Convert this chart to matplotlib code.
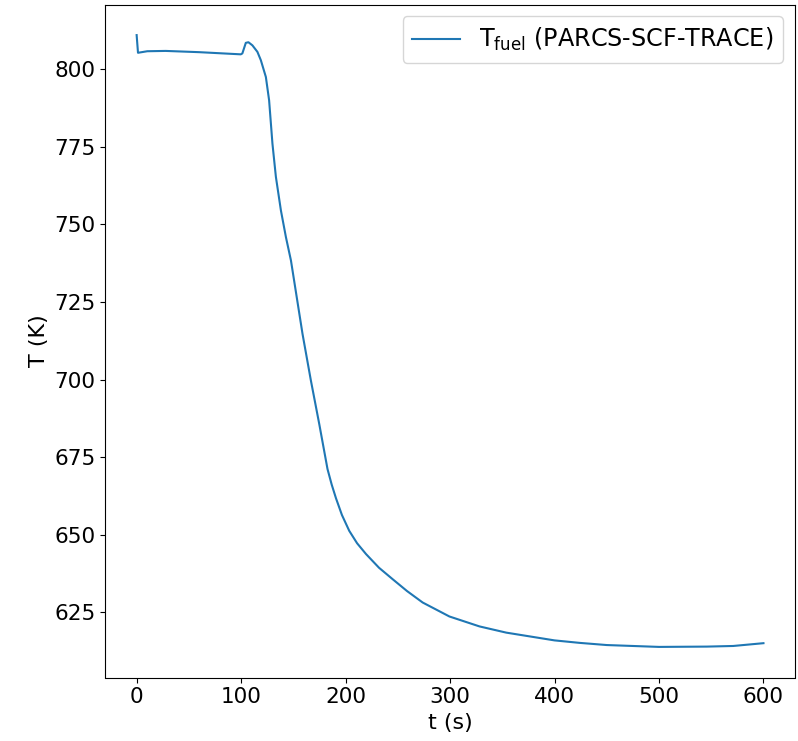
import matplotlib
matplotlib.use("Agg")
import matplotlib.pyplot as plt

# Fuel temperature transient (PARCS-SCF-TRACE coupled run)
time_s = [0, 1.3, 10.2, 27.8, 59.7, 99.7, 101.2, 104.5, 107, 110.8, 115.6, 118.9,
          123.7, 126.8, 130, 133.3, 138.1, 142.9, 147.7, 158.8, 166.8, 174.8,
          182.7, 186.7, 190.8, 196.5, 203.5, 211, 219.6, 232, 245.1, 258.8, 273.8,
          299.4, 328.2, 353.8, 400, 424, 450, 500, 545.7, 571, 600]
t_fuel = [811.0, 805.3, 805.8, 805.9, 805.5, 804.8, 805.1, 808.5, 808.7, 807.7,
          805.6, 802.9, 797.5, 790.0, 776.0, 765.3, 754.5, 745.9, 738.4, 714.7,
          699.7, 685.7, 671.2, 666.2, 661.8, 656.4, 651.3, 647.3, 643.8, 639.4,
          635.7, 631.9, 628.2, 623.7, 620.5, 618.5, 616.0, 615.2, 614.5, 613.9,
          614.0, 614.2, 615.1]

W, H = 798, 741
fig = plt.figure(figsize=(W / 100, H / 100), dpi=100)
left, right, top, bottom = 105.3, 794.8, 4.5, 677.5
ax = fig.add_axes([left / W, 1 - bottom / H, (right - left) / W, (bottom - top) / H])

ax.plot(time_s, t_fuel, color="#1f77b4", linewidth=1.5,
        label=r"$\mathrm{T_{fuel}}$ (PARCS-SCF-TRACE)")

ax.set_xlabel("t (s)", fontsize=16)
ax.set_ylabel("T (K)", fontsize=16)
ax.tick_params(labelsize=15.5)
ax.set_xticks([0, 100, 200, 300, 400, 500, 600])
ax.set_yticks([625, 650, 675, 700, 725, 750, 775, 800])
ax.legend(loc="upper right", fontsize=17.2)

fig.savefig("out.png", dpi=100)
